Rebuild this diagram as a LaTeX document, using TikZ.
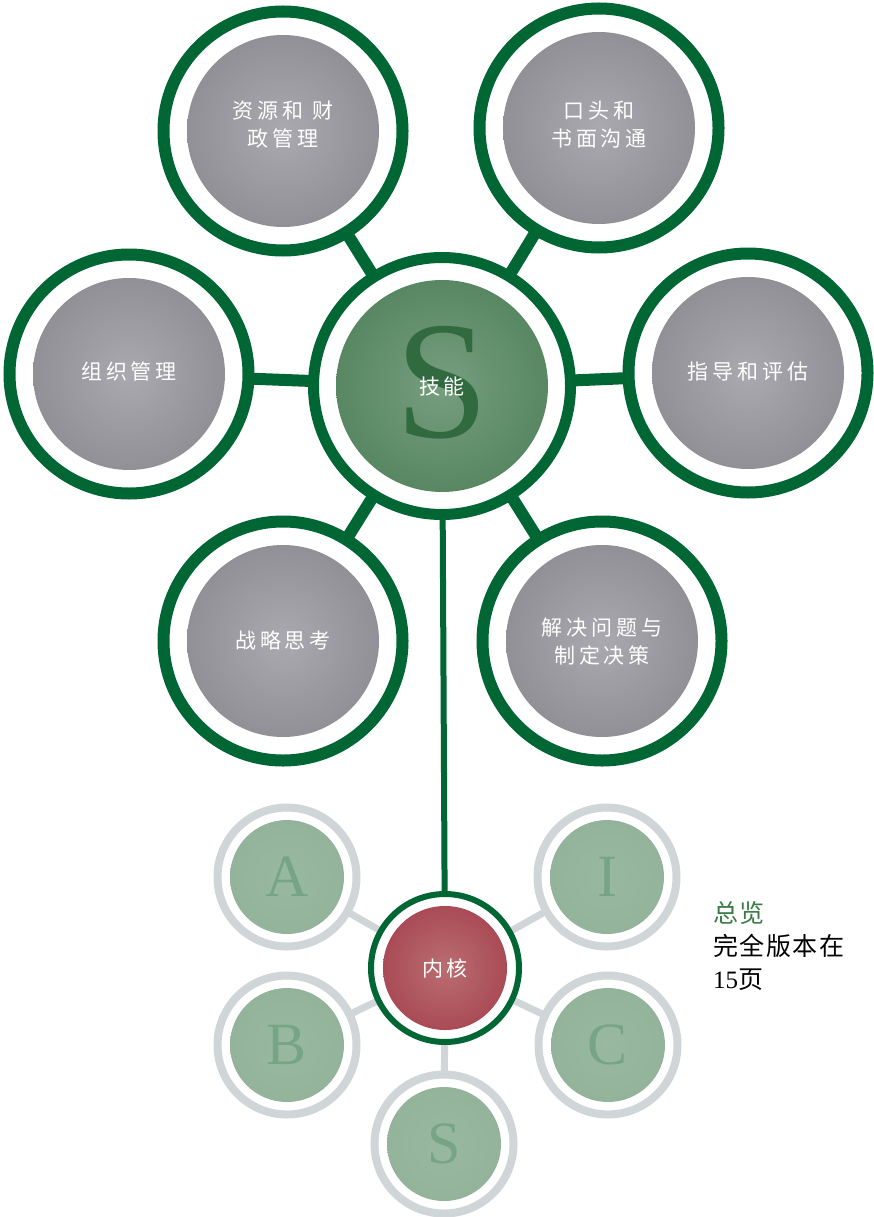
\documentclass[tikz,border=0pt]{standalone}
\usepackage{fontspec}
\usetikzlibrary{backgrounds}
\newfontfamily\cjk[LetterSpace=18]{Noto Sans CJK SC}
\newfontfamily\cjknote[LetterSpace=6]{Noto Sans CJK SC}
\newfontfamily\lettersf{Liberation Serif}
\definecolor{dgreen}{RGB}{0,102,51}
\definecolor{gcen}{RGB}{170,169,175}
\definecolor{gedge}{RGB}{120,119,125}
\definecolor{grcen}{RGB}{118,158,127}
\definecolor{gredge}{RGB}{58,112,70}
\definecolor{rcen}{RGB}{186,110,112}
\definecolor{redge}{RGB}{152,40,60}
\definecolor{scen}{RGB}{153,184,160}
\definecolor{sedge}{RGB}{141,175,148}
\definecolor{ringgray}{RGB}{208,213,216}
\definecolor{lettergreen}{RGB}{118,165,134}
\definecolor{bigS}{RGB}{50,106,64}
\definecolor{notegreen}{RGB}{58,122,70}
\pgfdeclareradialshading{grayball}{\pgfpoint{0bp}{0bp}}{color(0bp)=(gcen); color(50bp)=(gedge)}
\pgfdeclareradialshading{greenball}{\pgfpoint{0bp}{0bp}}{color(0bp)=(grcen); color(50bp)=(gredge)}
\pgfdeclareradialshading{redball}{\pgfpoint{0bp}{0bp}}{color(0bp)=(rcen); color(50bp)=(redge)}
\pgfdeclareradialshading{satball}{\pgfpoint{0bp}{0bp}}{color(0bp)=(scen); color(50bp)=(sedge)}
\begin{document}
\begin{tikzpicture}[x=1pt,y=-1pt,
  cring/.style={circle, draw=dgreen, line width=11pt, fill=white, minimum size=257pt, inner sep=0pt},
  cdisc/.style={circle, shade, shading=greenball, minimum size=212pt, inner sep=0pt},
  pring/.style={circle, draw=dgreen, line width=12pt, fill=white, minimum size=239pt, inner sep=0pt},
  pdisc/.style={circle, shade, shading=grayball, minimum size=192pt, inner sep=0pt},
  lbl/.style={text=white, align=center, inner sep=0pt, font=\cjk\fontsize{21}{28}\selectfont},
  bigletter/.style={text=bigS, inner sep=0pt, font=\lettersf\fontsize{168}{168}\selectfont},
  kring/.style={circle, draw=dgreen, line width=6pt, fill=white, minimum size=148pt, inner sep=0pt},
  kdisc/.style={circle, shade, shading=redball, minimum size=124pt, inner sep=0pt, text=white, font=\cjk\fontsize{21}{28}\selectfont},
  sring/.style={circle, draw=ringgray, line width=8pt, fill=white, minimum size=139pt, inner sep=0pt},
  sdisc/.style={circle, shade, shading=satball, minimum size=114pt, inner sep=0pt, text=lettergreen, font=\lettersf\fontsize{60}{60}\selectfont},
  gconn/.style={draw=dgreen, line width=12pt},
  vline/.style={draw=dgreen, line width=6pt},
  sconn/.style={draw=ringgray, line width=7pt},
  notetext/.style={anchor=base west, inner sep=0pt, font=\cjknote\fontsize{25}{33}\selectfont}
]
\useasboundingbox (0,0) rectangle (874,1217);

% centre
\node[cring] (cr) at (442,386) {};
\node[cdisc] (c) at (442,386) {};
\node[bigletter] (cs) at (442,383) {S};
\node[lbl] (cl) at (442,387) {技能};

% petals
\node[pring] (tlr) at (283,131) {};
\node[pdisc] (tl) at (283,131) {};
\node[lbl] (tlt) at (283,125) {资源和 财\\政管理};
\node[pring] (trr) at (599,128) {};
\node[pdisc] (tr) at (599,128) {};
\node[lbl] (trt) at (599,125) {口头和\\书面沟通};
\node[pring] (lr) at (129,374) {};
\node[pdisc] (l) at (129,374) {};
\node[lbl] (lt) at (129,371) {组织管理};
\node[pring] (rr) at (748,373) {};
\node[pdisc] (r) at (748,373) {};
\node[lbl] (rt) at (748,372) {指导和评估};
\node[pring] (blr) at (283,641) {};
\node[pdisc] (bl) at (283,641) {};
\node[lbl] (blt) at (283,640) {战略思考};
\node[pring] (brr) at (602,641) {};
\node[pdisc] (br) at (602,641) {};
\node[lbl] (brt) at (602,642) {解决问题与\\制定决策};

% core cluster
\node[kring] (kr) at (445,968) {};
\node[kdisc] (k) at (445,968) {内核};
\node[sring] (ar) at (287,877) {};
\node[sdisc] (a) at (287,877) {A};
\node[sring] (ir) at (607,877) {};
\node[sdisc] (i) at (607,877) {I};
\node[sring] (br2) at (287,1045) {};
\node[sdisc] (b) at (287,1045) {B};
\node[sring] (cr2) at (608,1045) {};
\node[sdisc] (cc) at (608,1045) {C};
\node[sring] (sr) at (444,1144) {};
\node[sdisc] (s) at (444,1144) {S};

% note
\node[notetext, text=notegreen] (n1) at (713,922) {总览};
\node[notetext] (n2) at (713,955) {完全版本在};
\node[notetext] (n3) at (713,988) {{\lettersf 15}页};

\begin{scope}[on background layer]
\draw[gconn] (cr.center) -- (tlr.center);
\draw[gconn] (cr.center) -- (trr.center);
\draw[gconn] (cr.center) -- (lr.center);
\draw[gconn] (cr.center) -- (rr.center);
\draw[gconn] (cr.center) -- (blr.center);
\draw[gconn] (cr.center) -- (brr.center);
\draw[vline] (cr.center) -- (kr.center);
\draw[sconn] (kr.center) -- (ar.center);
\draw[sconn] (kr.center) -- (ir.center);
\draw[sconn] (kr.center) -- (br2.center);
\draw[sconn] (kr.center) -- (cr2.center);
\draw[sconn] (kr.center) -- (sr.center);
\end{scope}
\end{tikzpicture}
\end{document}
